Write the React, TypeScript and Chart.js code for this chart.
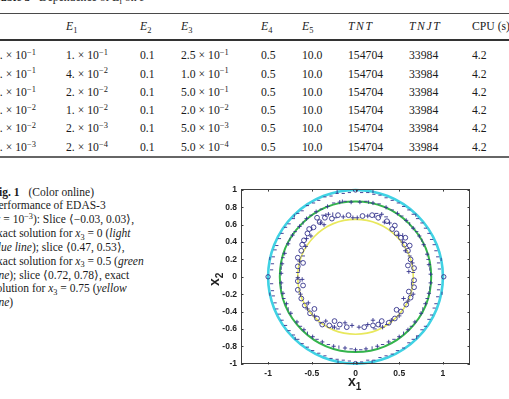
import React, { useEffect, useRef } from "react";
import { Chart, registerables } from "chart.js";

Chart.register(...registerables);

/* ---------- Table 3 values ---------- */
const epsMantissa = ["5.", "2.", "1.", "5.", "1.", "1."];
const epsExponent = ["−1", "−1", "−1", "−2", "−2", "−3"];
const e1Mantissa = ["1.", "4.", "2.", "1.", "2.", "2."];
const e1Exponent = ["−1", "−2", "−2", "−2", "−3", "−4"];
const e2Values = ["0.1", "0.1", "0.1", "0.1", "0.1", "0.1"];
const e3Mantissa = ["2.5", "1.0", "5.0", "2.0", "5.0", "5.0"];
const e3Exponent = ["−1", "−1", "−1", "−2", "−3", "−4"];
const e4Values = ["0.5", "0.5", "0.5", "0.5", "0.5", "0.5"];
const e5Values = ["10.0", "10.0", "10.0", "10.0", "10.0", "10.0"];
const tntValues = ["154704", "154704", "154704", "154704", "154704", "154704"];
const tnjtValues = ["33984", "33984", "33984", "33984", "33984", "33984"];
const cpuValues = ["4.2", "4.2", "4.2", "4.2", "4.2", "4.2"];

/* ---------- Fig. 1 values ---------- */
const xTicks = [-1, -0.5, 0, 0.5, 1];
const xTickLabels = ["-1", "-0.5", "0", "0.5", "1"];
const yTicks = [-1, -0.8, -0.6, -0.4, -0.2, 0, 0.2, 0.4, 0.6, 0.8, 1];
const yTickLabels = ["-1", "-0.8", "-0.6", "-0.4", "-0.2", "0", "0.2", "0.4", "0.6", "0.8", "1"];

// exact solution radii in the slices x3 = 0, 0.5, 0.75
const exactRadii = [1.0, 0.866, 0.661];

// slice <-0.03, 0.03>
const outerDashes: number[][] = [
  [0.07, 0.97], [0.14, 0.97], [0.21, 0.95], [0.28, 0.94], [0.35, 0.91], [0.42, 0.88], [0.49, 0.85],
  [0.55, 0.81], [0.61, 0.77], [0.66, 0.72], [0.71, 0.67], [0.76, 0.62], [0.80, 0.56], [0.84, 0.50],
  [0.87, 0.43], [0.90, 0.37], [0.92, 0.30], [0.94, 0.23], [0.95, 0.16], [0.96, 0.09],
  [-0.07, 0.97], [-0.14, 0.96], [-0.21, 0.96], [-0.28, 0.93], [-0.35, 0.92], [-0.42, 0.88], [-0.48, 0.85],
  [-0.55, 0.82], [-0.61, 0.76], [-0.66, 0.73], [-0.71, 0.67], [-0.76, 0.61], [-0.80, 0.57], [-0.84, 0.50],
  [-0.87, 0.44], [-0.90, 0.36], [-0.92, 0.31], [-0.94, 0.23], [-0.95, 0.15], [-0.96, 0.08],
  [-0.96, -0.08], [-0.95, -0.16], [-0.94, -0.22], [-0.92, -0.30], [-0.90, -0.37], [-0.87, -0.43],
  [-0.84, -0.50], [-0.80, -0.56], [-0.76, -0.62], [-0.71, -0.67], [-0.66, -0.72], [-0.61, -0.77],
  [-0.55, -0.81], [-0.49, -0.85], [-0.42, -0.88], [-0.35, -0.91], [-0.28, -0.94], [-0.21, -0.95],
  [-0.14, -0.96], [-0.07, -0.97],
  [0.96, -0.09], [0.95, -0.15], [0.94, -0.23], [0.92, -0.31], [0.90, -0.36], [0.87, -0.44],
  [0.84, -0.49], [0.80, -0.57], [0.76, -0.61], [0.71, -0.68], [0.66, -0.72], [0.61, -0.76],
  [0.55, -0.82], [0.48, -0.85], [0.42, -0.89], [0.35, -0.91], [0.28, -0.93], [0.21, -0.96],
  [0.14, -0.96], [0.07, -0.98],
];
const outerBars: number[][] = [
  [0.98, 0.2], [0.99, -0.19], [-0.98, 0.21], [-0.98, -0.2], [0.2, 0.98], [-0.21, 0.98],
  [0.19, -0.98], [-0.2, -0.98], [0.69, 0.71], [-0.7, 0.7], [0.7, -0.7], [-0.69, -0.71],
];
const outerRings: number[][] = [[1.01, 0.0], [-1.0, 0.0], [0.0, 1.0], [0.0, -1.0]];

// slice <0.47, 0.53>
const middleCrosses: number[][] = [
  [0.05, 0.86], [0.2, 0.85], [0.35, 0.8], [0.48, 0.73], [0.58, 0.65], [0.66, 0.56], [0.73, 0.47],
  [0.78, 0.37], [0.82, 0.26], [0.84, 0.14], [0.86, 0.03],
  [-0.05, 0.86], [-0.18, 0.86], [-0.32, 0.81], [-0.45, 0.75], [-0.56, 0.67], [-0.64, 0.58],
  [-0.72, 0.48], [-0.77, 0.38], [-0.81, 0.27], [-0.84, 0.15], [-0.85, 0.04],
  [-0.85, -0.07], [-0.83, -0.19], [-0.79, -0.31], [-0.74, -0.42], [-0.67, -0.52], [-0.59, -0.61],
  [-0.49, -0.69], [-0.38, -0.75], [-0.25, -0.8], [-0.12, -0.82],
  [0.86, -0.07], [0.84, -0.19], [0.8, -0.31], [0.75, -0.42], [0.68, -0.52], [0.6, -0.61],
  [0.5, -0.69], [0.38, -0.75], [0.25, -0.8], [0.12, -0.83], [0.0, -0.84],
];
const middleDashes: number[][] = [
  [-0.12, 0.87], [0.12, 0.87], [0.27, 0.84], [-0.25, 0.85], [0.42, 0.77], [-0.39, 0.78], [0.53, 0.7],
  [-0.51, 0.71], [0.7, 0.52], [-0.69, 0.52], [0.83, 0.2], [-0.83, 0.22], [-0.82, -0.25], [0.82, -0.25],
  [-0.63, -0.57], [0.64, -0.57], [-0.44, -0.72], [0.44, -0.72], [-0.31, -0.78], [0.31, -0.78],
  [-0.05, -0.83], [0.06, -0.84],
];
const middleBars: number[][] = [
  [-0.15, 0.87], [0.15, 0.86], [0.62, 0.61], [-0.6, 0.62], [0.76, 0.42], [-0.75, 0.43], [0.85, 0.09],
  [-0.85, 0.1], [-0.85, -0.12], [0.85, -0.13], [-0.77, -0.37], [0.77, -0.37], [-0.55, -0.65],
  [0.55, -0.65], [-0.19, -0.81], [0.19, -0.82],
];

// slice <0.72, 0.78>
const innerRings: number[][] = [
  [0.08, 0.7], [0.19, 0.71], [0.26, 0.68], [0.36, 0.64], [0.42, 0.55], [0.47, 0.5], [0.52, 0.45],
  [0.56, 0.37], [0.6, 0.3], [0.63, 0.2], [0.67, 0.1],
  [-0.08, 0.71], [-0.2, 0.71], [-0.27, 0.67], [-0.35, 0.68], [-0.44, 0.68], [-0.48, 0.57], [-0.55, 0.5],
  [-0.59, 0.42], [-0.62, 0.3], [-0.66, 0.22], [-0.66, 0.12],
  [-0.66, -0.05], [-0.66, -0.15], [-0.62, -0.25], [-0.58, -0.33], [-0.52, -0.42], [-0.44, -0.48],
  [-0.38, -0.55], [-0.3, -0.56], [-0.18, -0.55], [-0.1, -0.58],
  [0.67, -0.04], [0.67, -0.12], [0.63, -0.24], [0.58, -0.32], [0.52, -0.4], [0.45, -0.48],
  [0.38, -0.53], [0.26, -0.55], [0.2, -0.56], [0.1, -0.58],
  [-0.41, 0.63], [-0.53, 0.55], [0.45, 0.59], [0.57, 0.45], [-0.61, 0.37], [0.62, 0.36],
  [-0.6, 0.16], [0.6, 0.13], [-0.6, -0.1], [0.61, -0.17], [-0.47, -0.37], [0.47, -0.38],
  [-0.24, -0.51], [0.3, -0.51],
];
const innerCrosses: number[][] = [
  [0.02, 0.68], [0.14, 0.7], [0.3, 0.72], [0.39, 0.62], [0.49, 0.48], [0.57, 0.3], [0.65, 0.16],
  [-0.03, 0.68], [-0.14, 0.69], [-0.31, 0.72], [-0.4, 0.62], [-0.51, 0.47], [-0.57, 0.35], [-0.64, 0.18],
  [-0.66, -0.01], [-0.63, -0.2], [-0.55, -0.37], [-0.47, -0.45], [-0.34, -0.51], [-0.24, -0.58], [-0.04, -0.56],
  [0.66, -0.2], [0.6, -0.28], [0.5, -0.45], [0.41, -0.5], [0.31, -0.58], [0.14, -0.55], [0.04, -0.58],
  [-0.36, 0.6], [0.33, 0.63], [-0.56, 0.44], [0.54, 0.4], [-0.61, -0.03], [0.61, 0.06],
  [-0.54, -0.3], [0.55, -0.25], [-0.12, -0.53], [0.2, -0.5],
];
const innerDashes: number[][] = [
  [-0.37, 0.71], [-0.23, 0.68], [0.24, 0.73], [0.35, 0.69], [-0.6, 0.24], [0.62, 0.24], [-0.66, 0.05],
  [0.66, 0.05], [-0.4, -0.53], [0.36, -0.55], [-0.2, -0.6], [0.22, -0.6],
];
const innerBars: number[][] = [
  [-0.34, 0.71], [-0.26, 0.72], [0.22, 0.7], [0.28, 0.7], [-0.64, 0.08], [0.64, -0.08],
  [-0.26, -0.58], [0.28, -0.56], [-0.5, 0.55], [0.54, 0.48],
];

/* ---------- drawing ---------- */
const NAVY = "#34338c";
const exactStyles = [
  { color: "#40d2e4", width: 2.6 },
  { color: "#34b44c", width: 2.0 },
  { color: "#e8e85c", width: 1.6 },
];

const toXY = (pts: number[][]) => pts.map(([x, y]) => ({ x, y }));

function markers(data: number[][], style: string, radius: number, rotation = 0, width = 0.9) {
  return {
    data: toXY(data),
    showLine: false,
    pointStyle: style,
    pointRadius: radius,
    pointRotation: rotation,
    pointBorderColor: NAVY,
    pointBackgroundColor: "rgba(0,0,0,0)",
    pointBorderWidth: width,
  };
}

const exactCurves = {
  id: "exactCurves",
  beforeDatasetsDraw(chart: any) {
    const { ctx, scales } = chart;
    const x = scales.x;
    const y = scales.y;
    const cx = x.getPixelForValue(0);
    const cy = y.getPixelForValue(0);
    exactRadii.forEach((r, i) => {
      const rx = x.getPixelForValue(r) - cx;
      const ry = cy - y.getPixelForValue(r);
      ctx.save();
      ctx.beginPath();
      ctx.ellipse(cx, cy, rx, ry, 0, 0, Math.PI * 2);
      ctx.strokeStyle = exactStyles[i].color;
      ctx.lineWidth = exactStyles[i].width;
      ctx.stroke();
      ctx.restore();
    });
  },
};

const boxFrame = {
  id: "boxFrame",
  afterDatasetsDraw(chart: any) {
    const { ctx, chartArea: a, scales } = chart;
    const len = 2.5;
    ctx.save();
    ctx.strokeStyle = "#3c3c3c";
    ctx.lineWidth = 1;
    ctx.strokeRect(Math.round(a.left) + 0.5, Math.round(a.top) + 0.5, Math.round(a.width) - 1, Math.round(a.height) - 1);
    ctx.beginPath();
    scales.x.ticks.forEach((t: any) => {
      const px = Math.round(scales.x.getPixelForValue(t.value)) + 0.5;
      ctx.moveTo(px, a.bottom);
      ctx.lineTo(px, a.bottom - len);
      ctx.moveTo(px, a.top);
      ctx.lineTo(px, a.top + len);
    });
    scales.y.ticks.forEach((t: any) => {
      const py = Math.round(scales.y.getPixelForValue(t.value)) + 0.5;
      ctx.moveTo(a.left, py);
      ctx.lineTo(a.left + len, py);
      ctx.moveTo(a.right, py);
      ctx.lineTo(a.right - len, py);
    });
    ctx.stroke();
    ctx.restore();
  },
};

const tickFont = { family: "'Liberation Sans', Arial, sans-serif", size: 8.5, weight: "bold" as const };

function SliceChart() {
  const ref = useRef<HTMLCanvasElement>(null);
  useEffect(() => {
    const chart = new Chart(ref.current!, {
      type: "scatter",
      data: {
        datasets: [
          markers(outerDashes, "line", 1.6),
          markers(outerBars, "line", 1.6, 90),
          markers(outerRings, "circle", 2.2),
          markers(middleCrosses, "cross", 2.1),
          markers(middleDashes, "line", 1.7),
          markers(middleBars, "line", 1.7, 90),
          markers(innerRings, "circle", 2.4),
          markers(innerCrosses, "cross", 2.2),
          markers(innerDashes, "line", 1.9),
          markers(innerBars, "line", 1.9, 90),
        ] as any,
      },
      options: {
        responsive: false,
        animation: false,
        devicePixelRatio: 1,
        events: [],
        layout: { padding: { top: 7.5, right: 20, left: 0, bottom: 0 } },
        plugins: { legend: { display: false }, tooltip: { enabled: false } },
        scales: {
          x: {
            type: "linear",
            min: -1.31,
            max: 1.31,
            afterBuildTicks: (s: any) => {
              s.ticks = xTicks.map((v) => ({ value: v }));
            },
            afterFit: (s: any) => {
              s.height = 34.5;
            },
            grid: { display: false, drawTicks: false },
            border: { display: false },
            ticks: {
              callback: (_v: any, i: number) => xTickLabels[i],
              font: tickFont,
              color: "#222",
              padding: 4,
              maxRotation: 0,
              autoSkip: false,
            },
          },
          y: {
            type: "linear",
            min: -1.01,
            max: 1.01,
            afterBuildTicks: (s: any) => {
              s.ticks = yTicks.map((v) => ({ value: v }));
            },
            afterFit: (s: any) => {
              s.width = 41;
            },
            grid: { display: false, drawTicks: false },
            border: { display: false },
            ticks: {
              callback: (_v: any, i: number) => yTickLabels[i],
              font: tickFont,
              color: "#222",
              padding: 4,
              autoSkip: false,
            },
          },
        },
      },
      plugins: [exactCurves, boxFrame],
    });
    return () => chart.destroy();
  }, []);
  return (
    <canvas
      ref={ref}
      width={290}
      height={219}
      style={{ position: "absolute", left: 200, top: 180, width: 290, height: 219, display: "block" }}
    />
  );
}

/* ---------- page text ---------- */
const supStyle: React.CSSProperties = { fontSize: "0.72em", position: "relative", top: "-0.48em", lineHeight: 0 };
const subStyle: React.CSSProperties = { fontSize: "0.72em", position: "relative", top: "0.3em", lineHeight: 0 };

function Sci({ m, e }: { m: string; e: string }) {
  return (
    <span>
      {m} × 10<span style={supStyle}>{e}</span>
    </span>
  );
}

const colLeft = [-6, 66, 140, 181, 261, 302, 348, 409, 472];
const ROW_H = 18.3;

function Cell({ left, top, children }: { left: number; top: number; children: React.ReactNode }) {
  return (
    <div style={{ position: "absolute", left, top, height: ROW_H, lineHeight: `${ROW_H}px`, whiteSpace: "nowrap" }}>
      {children}
    </div>
  );
}

function Table() {
  const headTop = 18.4;
  const head = [
    null,
    <span><i>E</i><span style={subStyle}>1</span></span>,
    <span><i>E</i><span style={subStyle}>2</span></span>,
    <span><i>E</i><span style={subStyle}>3</span></span>,
    <span><i>E</i><span style={subStyle}>4</span></span>,
    <span><i>E</i><span style={subStyle}>5</span></span>,
    <i style={{ letterSpacing: "1.6px" }}>TNT</i>,
    <i style={{ letterSpacing: "1.6px" }}>TNJT</i>,
    <span>CPU (s)</span>,
  ];
  return (
    <div style={{ position: "absolute", left: 0, top: 0, width: 509, height: 170, fontSize: 11.7 }}>
      <div style={{ position: "absolute", left: -6, top: -10.6, lineHeight: `${ROW_H}px`, whiteSpace: "nowrap" }}>
        <b>Table 3</b>&nbsp;&nbsp;&nbsp;Dependence of <i>E</i><span style={subStyle}>i</span> on <i>ε</i>
      </div>
      <div style={{ position: "absolute", left: 0, top: 12.5, width: 509, height: 1.2, background: "#4a4a4a" }} />
      <div style={{ position: "absolute", left: 0, top: 39, width: 509, height: 2, background: "#333" }} />
      <div style={{ position: "absolute", left: 0, top: 155.5, width: 509, height: 2, background: "#666" }} />
      {head.map((h, c) => (h ? <Cell key={"h" + c} left={colLeft[c]} top={headTop}>{h}</Cell> : null))}
      {epsMantissa.map((_, r) => {
        const top = 47.2 + r * ROW_H;
        return (
          <React.Fragment key={r}>
            <Cell left={colLeft[0]} top={top}><Sci m={epsMantissa[r]} e={epsExponent[r]} /></Cell>
            <Cell left={colLeft[1]} top={top}><Sci m={e1Mantissa[r]} e={e1Exponent[r]} /></Cell>
            <Cell left={colLeft[2]} top={top}>{e2Values[r]}</Cell>
            <Cell left={colLeft[3]} top={top}><Sci m={e3Mantissa[r]} e={e3Exponent[r]} /></Cell>
            <Cell left={colLeft[4]} top={top}>{e4Values[r]}</Cell>
            <Cell left={colLeft[5]} top={top}>{e5Values[r]}</Cell>
            <Cell left={colLeft[6]} top={top}>{tntValues[r]}</Cell>
            <Cell left={colLeft[7]} top={top}>{tnjtValues[r]}</Cell>
            <Cell left={colLeft[8]} top={top}>{cpuValues[r]}</Cell>
          </React.Fragment>
        );
      })}
    </div>
  );
}

function Caption() {
  const x3 = (
    <span>
      <i>x</i>
      <span style={subStyle}>3</span>
    </span>
  );
  return (
    <div
      style={{
        position: "absolute",
        left: -8,
        top: 185.5,
        fontSize: 11.5,
        lineHeight: "13.85px",
        whiteSpace: "nowrap",
      }}
    >
      <div><b>Fig. 1</b><span style={{ marginLeft: 9 }}>(Color online)</span></div>
      <div>Performance of EDAS-3</div>
      <div>(<i>ε</i> = 10<span style={supStyle}>−3</span>): Slice ⟨−0.03, 0.03⟩,</div>
      <div>exact solution for {x3} = 0 (<i>light</i></div>
      <div><i>blue line</i>); slice ⟨0.47, 0.53⟩,</div>
      <div>exact solution for {x3} = 0.5 (<i>green</i></div>
      <div><i>line</i>); slice ⟨0.72, 0.78⟩, exact</div>
      <div>solution for {x3} = 0.75 (<i>yellow</i></div>
      <div><i>line</i>)</div>
    </div>
  );
}

function AxisTitles() {
  const f: React.CSSProperties = {
    position: "absolute",
    fontFamily: "'Liberation Sans', Arial, sans-serif",
    fontWeight: "bold",
    fontSize: 14,
    lineHeight: "14px",
    whiteSpace: "nowrap",
    color: "#1e1e1e",
  };
  const sub: React.CSSProperties = { fontSize: 10, position: "relative", top: 4 };
  return (
    <>
      <div style={{ ...f, left: 348, top: 374 }}>
        x<span style={sub}>1</span>
      </div>
      <div style={{ ...f, left: 207, top: 286, transformOrigin: "0 0", transform: "rotate(-90deg)" }}>
        x<span style={sub}>2</span>
      </div>
    </>
  );
}

export default function App() {
  return (
    <div
      style={{
        position: "fixed",
        left: 0,
        top: 0,
        width: 509,
        height: 399,
        overflow: "hidden",
        background: "#fff",
        color: "#1b1b1b",
        fontFamily: "'Liberation Serif', 'Times New Roman', serif",
      }}
    >
      <Table />
      <Caption />
      <SliceChart />
      <AxisTitles />
    </div>
  );
}
